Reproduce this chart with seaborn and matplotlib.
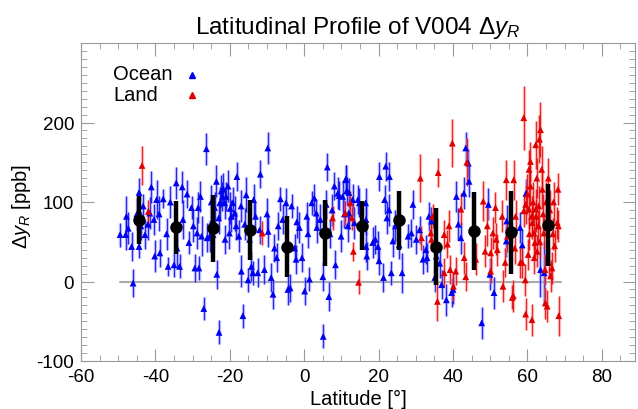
import numpy as np
import pandas as pd
import matplotlib.pyplot as plt
import seaborn as sns
from matplotlib.ticker import MultipleLocator

# ocean soundings: latitude, delta y_R, error
ocean_lat = [-49.5, -48.0, -47.8, -47.3, -46.4, -46.0, -44.4, -44.4, -43.3, -42.8,
             -41.5, -41.1, -40.4, -40.2, -39.7, -38.8, -37.9, -36.6, -35.0, -34.4,
             -34.2, -33.5, -32.8, -32.6, -31.0, -30.3, -29.4, -28.8, -28.5, -28.3,
             -27.9, -27.6, -27.0, -26.3, -26.1, -25.4, -24.5, -24.1, -23.6, -23.5,
             -22.9, -22.7, -22.3, -22.0, -21.7, -21.4, -21.3, -21.0, -20.5, -20.1,
             -19.6, -19.2, -18.7, -18.1, -17.6, -16.9, -16.5, -16.0, -15.6, -15.1,
             -14.7, -14.2, -13.8, -13.6, -13.1, -12.5, -11.8, -10.7, -9.8, -9.7,
             -8.9, -8.4, -8.0, -7.4, -6.4, -5.8, -4.9, -4.4, -3.8, -3.4,
             -2.6, -2.2, -1.3, -0.6, 0.1, 0.7, 1.4, 2.0, 3.2, 3.4,
             4.3, 5.0, 5.1, 5.9, 6.2, 6.6, 6.9, 8.1, 8.4, 9.0,
             9.4, 10.3, 11.2, 11.7, 12.0, 13.0, -45.0, -43.9, -42.0, -39.0,
             -37.0, -36.0, -31.5, -29.8, -25.0, -24.8, -23.0, -19.9, -18.3, -17.0,
             -12.0, -10.0, -7.0, -2.0, 1.0, 2.7, 7.5, 10.8, 9.9, 11.1,
             11.4, 12.0, 13.5, 14.4, 14.8, 16.5, 16.6, 16.6, 16.8, 18.4,
             19.1, 19.8, 20.1, 20.2, 21.3, 21.6, 21.9, 22.2, 22.8, 22.9,
             23.4, 23.8, 24.5, 26.3, 27.9, 28.8, 29.2, 30.1, 31.0, 31.9,
             33.0, 33.5, 34.2, 35.1, 35.5, 36.4, 36.9, 38.2, 39.6, 40.0,
             40.9, 41.4, 42.9, 43.4, 44.1, 47.7, 49.5, 49.9, 54.4, 58.0,
             59.6, 64.5, 25.5, 32.7, 42.1, 44.3, 51.0, 54.3, 58.6, 63.5]
ocean_val = [59, 59, 82, 67, 44, -2, 112, 44, 95, 59,
             86, 119, 78, 32, 103, 36, 104, 19, 21, 124,
             42, 19, 119, 78, 49, 93, 17, 61, 93, 17,
             107, 57, -34, 167, 55, 57, 59, 93, 126, 9,
             -64, 99, 114, 107, 116, 99, 53, 107, 120, 61,
             82, 99, 86, 132, 57, 13, -43, 72, 109, 2,
             53, 19, 11, 103, 82, 11, 135, 15, 168, 63,
             5, -16, 42, 30, 104, 78, 99, -10, -8, 95,
             42, 28, 68, 30, -12, 82, 3, 99, 86, 68,
             78, 6, -69, 97, 144, -19, 60, 120, 21, 111,
             108, 107, 129, 70, 112, 103, 85, 70, 72, 85,
             60, 100, 110, 70, 100, 75, 80, 92, 70, 95,
             65, 85, 70, 75, 60, 105, 90, 85, 57, 128,
             114, 86, 74, 103, 99, 99, 78, 44, 32, 49,
             53, 44, 26, 132, 5, 103, 145, 80, 90, 132,
             11, 51, 70, 11, 57, 61, 97, 53, 65, 28,
             30, 82, 76, 5, 32, 23, -4, -23, -14, -10,
             107, 72, 111, 168, 149, -52, 97, 9, 76, 68,
             111, 11, 46, 40, 55, 126, -14, 51, 46, 15]
ocean_err = [15, 20, 25, 20, 18, 18, 18, 15, 15, 18,
             20, 20, 20, 20, 25, 18, 12, 12, 15, 20,
             25, 15, 20, 25, 15, 15, 18, 20, 20, 15,
             20, 25, 15, 20, 18, 20, 22, 20, 20, 18,
             15, 20, 20, 18, 20, 20, 18, 18, 20, 20,
             20, 20, 22, 18, 20, 20, 15, 20, 22, 15,
             20, 18, 15, 20, 18, 18, 18, 18, 20, 20,
             18, 18, 18, 18, 15, 18, 18, 20, 18, 15,
             18, 18, 20, 18, 18, 18, 15, 15, 18, 20,
             20, 18, 15, 18, 18, 18, 18, 18, 18, 20,
             18, 20, 18, 20, 18, 20, 20, 18, 20, 22,
             20, 20, 18, 20, 22, 20, 20, 20, 18, 20,
             18, 20, 18, 20, 18, 18, 20, 18, 20, 18,
             18, 20, 20, 18, 18, 18, 20, 20, 18, 20,
             18, 20, 18, 18, 18, 18, 18, 20, 20, 18,
             15, 20, 20, 25, 15, 18, 18, 18, 18, 18,
             18, 18, 18, 18, 18, 18, 18, 20, 18, 18,
             20, 20, 20, 20, 18, 20, 20, 20, 20, 20,
             18, 40, 18, 18, 20, 20, 20, 20, 20, 35]

# land soundings
land_lat = [-43.6, -41.9, -11.3, 7.6, 11.0, 12.8, 12.4, 13.2, 14.6, 31.2,
            31.5, 34.2, 34.0, 34.5, 36.0, 35.8, 37.6, 38.5, 38.9, 37.6,
            39.2, 40.7, 40.1, 39.8, 42.1, 43.0, 43.7, 43.4, 46.1, 48.1,
            48.6, 49.2, 50.1, 50.1, 50.7, 51.4, 51.6, 51.9, 53.2, 53.4,
            54.0, 54.3, 54.6, 55.9, 56.3, 56.6, 56.8, 58.1, 58.6, 59.0,
            59.0, 59.5, 60.2, 60.4, 60.4, 60.8, 60.8, 61.1, 61.3, 61.7,
            62.0, 62.2, 62.2, 62.3, 62.6, 62.9, 63.2, 63.5, 63.8, 64.0,
            64.4, 64.7, 64.8, 65.3, 65.6, 65.7, 66.2, 66.6, 68.0, 68.2,
            68.4, 56.2, 59.4, 59.5, 61.2, 68.3, 60.0, 61.5, 62.5, 63.0,
            64.2, 65.0, 66.0, 66.8, 67.3, 60.5, 61.8, 63.3, 65.2, 67.0]
land_val = [146, 88, 61, 80, 86, 80, 99, 38, -1, 130,
            55, 53, 61, 82, 137, -25, 59, 47, 70, 11,
            15, 13, -6, 174, 91, 30, 150, 6, 28, 101,
            38, 70, 36, 13, 61, 93, 53, 40, 82, -6,
            24, 128, 57, -20, 128, 42, 82, 24, 24, 206,
            89, 97, 34, 141, 91, 151, 120, 82, 74, 61,
            49, 172, 91, 82, 38, 70, 179, 191, 141, 116,
            61, 15, -27, -31, 130, 24, 7, 17, 74, 116,
            -43, -18, 2, -41, -48, 70, 110, 100, 130, 95,
            85, 100, 90, 60, 45, 60, 30, 50, 75, 100]
land_err = [25, 15, 15, 15, 15, 15, 15, 12, 15, 30,
            15, 15, 15, 15, 18, 25, 18, 18, 20, 18,
            18, 18, 18, 30, 20, 20, 30, 18, 20, 25,
            20, 25, 20, 15, 20, 20, 20, 20, 20, 20,
            18, 25, 20, 15, 25, 20, 20, 20, 20, 40,
            20, 25, 20, 25, 25, 25, 25, 25, 20, 20,
            20, 30, 25, 20, 20, 20, 30, 35, 30, 25,
            20, 20, 20, 20, 25, 20, 20, 20, 20, 20,
            25, 20, 20, 20, 20, 20, 25, 25, 25, 25,
            25, 25, 25, 20, 20, 20, 20, 20, 20, 25]

# 10 degree bin means
bin_lat = [-44.5, -34.5, -24.5, -14.5, -4.5, 5.5, 15.5, 25.5, 35.5, 45.5, 55.5, 65.5]
bin_val = [77, 68, 67, 65, 44, 61, 70, 77, 44, 64, 62, 71]
bin_err = [30, 33, 42, 38, 38, 41, 31, 37, 48, 49, 52, 52]

zero_lat = [-49.5, 69.0]
zero_val = [0, 0]

legend_labels = ['Ocean', 'Land']

blue = '#0000f0'
red = '#e00000'

df = pd.concat([
    pd.DataFrame({'lat': ocean_lat, 'val': ocean_val, 'surface': 'Ocean'}),
    pd.DataFrame({'lat': land_lat, 'val': land_val, 'surface': 'Land'}),
], ignore_index=True)

sns.set_style('ticks')
plt.rcParams['font.family'] = ['Liberation Sans', 'DejaVu Sans']
plt.rcParams['mathtext.fontset'] = 'custom'
plt.rcParams['mathtext.rm'] = 'Liberation Sans'
plt.rcParams['mathtext.it'] = 'Liberation Sans:italic'
plt.rcParams['axes.unicode_minus'] = False
plt.rcParams['text.color'] = 'black'
plt.rcParams['axes.labelcolor'] = 'black'

fig = plt.figure(figsize=(6.38, 4.10), dpi=100)
ax = fig.add_axes([81 / 638, 48 / 410, 554 / 638, 318 / 410])

ax.plot(zero_lat, zero_val, color='#aaaaaa', lw=1.5, zorder=0)

# error bars: light wide underlay + thin dark line
ax.errorbar(ocean_lat, ocean_val, yerr=ocean_err, fmt='none', ecolor='#9999ff',
            elinewidth=2.5, alpha=0.5, capsize=0, zorder=1)
ax.errorbar(ocean_lat, ocean_val, yerr=ocean_err, fmt='none', ecolor=blue,
            elinewidth=0.9, alpha=0.8, capsize=0, zorder=1.5)
ax.errorbar(land_lat, land_val, yerr=land_err, fmt='none', ecolor='#ff9999',
            elinewidth=2.5, alpha=0.5, capsize=0, zorder=2)
ax.errorbar(land_lat, land_val, yerr=land_err, fmt='none', ecolor=red,
            elinewidth=0.9, alpha=0.8, capsize=0, zorder=2.5)

sns.scatterplot(data=df, x='lat', y='val', hue='surface',
                palette={'Ocean': blue, 'Land': red}, marker='^', s=24,
                edgecolor='none', linewidth=0, ax=ax, zorder=3, legend=False)

ax.errorbar(bin_lat, bin_val, yerr=bin_err, fmt='o', color='black', ms=8,
            elinewidth=3.2, capsize=0, zorder=5)

ax.set_xlim(-60, 88.9)
ax.set_ylim(-100, 300)
ax.xaxis.set_major_locator(MultipleLocator(20))
ax.xaxis.set_minor_locator(MultipleLocator(5))
ax.set_yticks([-100, 0, 100, 200])
ax.yaxis.set_minor_locator(MultipleLocator(10))
ax.tick_params(which='both', direction='in', top=True, right=True,
               color='#999999', labelcolor='black', labelsize=13.5)
ax.tick_params(which='major', length=9, width=0.8)
ax.tick_params(axis='x', which='major', pad=5)
ax.tick_params(axis='y', which='major', pad=5)
ax.tick_params(which='minor', length=4.5, width=0.6)
for sp in ax.spines.values():
    sp.set_color('#999999')
    sp.set_linewidth(0.8)

ax.set_xlabel('Latitude [°]', fontsize=14.5, labelpad=3)
ax.set_ylabel(r'$\Delta y_R$ [ppb]', fontsize=14.5)
ax.yaxis.set_label_coords(-0.087, 0.49)
ax.set_title(r'Latitudinal Profile of V004 $\Delta y_R$', fontsize=17.5, pad=7)

# legend: labels left aligned, marker to the right
for i, (lab, col) in enumerate(zip(legend_labels, [blue, red])):
    yy = 0.887 - i * 0.065
    ax.text(0.058, yy, lab, transform=ax.transAxes, fontsize=14.5,
            ha='left', va='baseline')
    ax.plot([0.2], [yy + 0.013], transform=ax.transAxes, marker='^',
            color=col, ms=4.5, ls='none')

plt.savefig('out.png', dpi=100)
